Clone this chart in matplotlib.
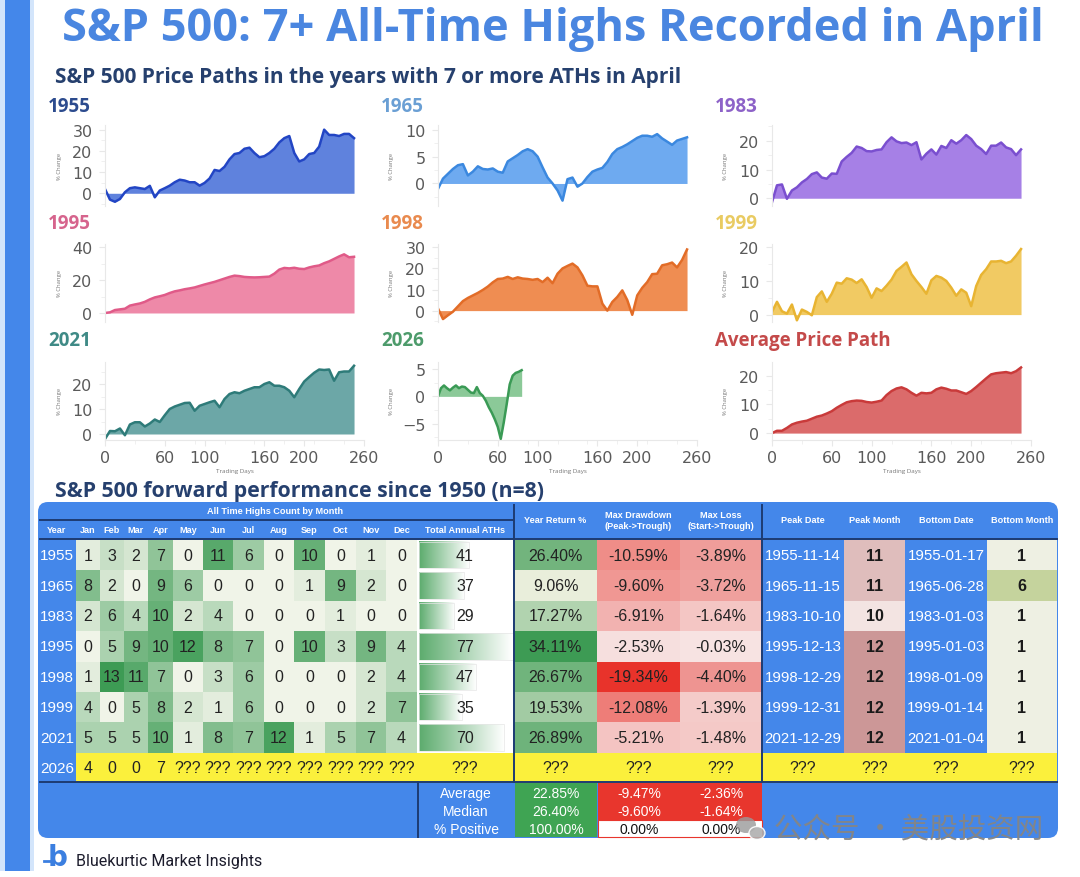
import matplotlib
matplotlib.use('Agg')
import matplotlib.pyplot as plt
from matplotlib.patches import Rectangle, FancyBboxPatch, Ellipse
from matplotlib.colors import LinearSegmentedColormap, Normalize
from matplotlib.ticker import AutoMinorLocator
import numpy as np

plt.rcParams['font.family'] = ['Open Sans', 'DejaVu Sans']

W, H = 1080, 878

# ---------------- price paths (% change, read every 5 trading days) ----------------
DAYS = list(range(0, 251, 5))
path_1955 = [2, -3, -4, -2.7, 0.5, 2.4, 2.8, 2.4, 2, 3.5, -1.9, 1.3, 2.4, 3.6, 5.2, 6.4, 6, 5.2, 5.2, 3.6,
             4.9, 7, 11, 10.5, 12.5, 16, 18.5, 19, 21, 21.5, 19, 17, 17.5, 19, 21, 24, 26, 27, 19, 15,
             16, 18.5, 19, 22, 30, 27.5, 27.5, 27, 28, 28, 26]
path_1965 = [-1, 0.9, 1.8, 2.7, 3.4, 3.6, 1.5, 2.2, 3.2, 2.7, 2.6, 2.8, 2.2, 2, 4.1, 4.7, 5.3, 6, 6.4, 6,
             5, 3, 1.1, 0, -1.3, -3.2, 0.8, 1.1, -0.6, 0, 1.2, 2.2, 2.6, 2.9, 4, 5.5, 6.4, 6.8, 7.3, 7.9,
             8.5, 8.9, 8.9, 8.7, 9.2, 8.4, 7.8, 7.2, 8, 8.3, 8.6]
path_1983 = [-1.4, 4.5, 4.8, -0.2, 2.7, 3.8, 5.5, 6.7, 8.4, 9, 7.2, 6.8, 8.6, 8.5, 12.8, 14.4, 15.8, 18,
             17.5, 16.4, 16.3, 16.8, 17, 19.5, 21.2, 19.8, 19.2, 19.4, 18.5, 19.5, 13.5, 15.5, 17, 15.2,
             18.2, 17.5, 20.2, 19, 20.2, 22, 20.6, 18.3, 17.1, 15.4, 18.3, 18.3, 19.4, 17.7, 17.1, 15, 17]
path_1995 = [0, 0.4, 1.8, 2.2, 2.6, 4.5, 5.2, 5.8, 6.8, 8.3, 9.5, 10.2, 11, 12.2, 13.2, 13.8, 14.5, 15,
             15.6, 16.5, 17.4, 18.2, 19, 20, 21, 22, 22.8, 22.5, 22, 21.8, 21.7, 21.8, 22, 22.2, 24, 26.5,
             27.5, 27.2, 27.6, 27, 26.8, 27.8, 28.5, 29, 30.4, 31.5, 33, 34.5, 35.8, 34, 34.3]
path_1998 = [1, -4, -2.2, -0.5, 2, 4.5, 6, 7.2, 8.4, 9.8, 11.4, 13.4, 15, 15.2, 16, 15, 15.8, 15.2, 15,
             14.6, 15, 13.5, 15.6, 13, 17.5, 20, 21.2, 22.3, 20.5, 16.7, 11.8, 11.5, 11.5, 3.3, 0, 4.1,
             6.5, 9.6, 5, -2, 7.2, 10.8, 13.5, 17.3, 17.5, 21.5, 22, 22.8, 20.5, 24, 29]
path_1999 = [0.8, 3.8, 1, 0.3, 3, -1.7, 1.5, 0.8, -0.2, 5.2, 6.9, 3.8, 6.2, 9.5, 9.2, 10.8, 10.4, 9.4,
             10.5, 8.2, 5, 7.8, 7, 8.6, 10.4, 13, 14.2, 15.5, 12, 10, 8.2, 6.2, 10.2, 11.5, 11, 10, 8,
             5.6, 7.5, 6.5, 2.5, 8.5, 11.8, 13.5, 15.8, 15.8, 16, 15.3, 15.8, 17.5, 19.5]
path_2021 = [-2, 1.2, 1.1, 2.2, -0.5, 3.8, 4.7, 4.7, 3, 4.2, 5.8, 4.8, 7.5, 10, 11, 11.7, 12.4, 12.5,
             9.3, 11.3, 12, 12.7, 13.3, 10.7, 14, 16, 16.7, 16.3, 17.3, 18, 18.7, 18.7, 20, 20.7, 19.3,
             19.3, 18.7, 17.3, 14.7, 18, 21, 22.8, 24.5, 25.8, 25.6, 25.8, 21.3, 24.7, 25, 25, 27.3]
path_avg = [0, 0.8, 0.8, 1.8, 3, 3.6, 4, 4.3, 5, 5.7, 6.1, 6.8, 7.6, 8.8, 9.8, 10.7, 11.1, 11.3, 11.2,
            10.8, 10.6, 10.9, 11.3, 13.2, 14.6, 15.5, 15.9, 15.2, 14, 13, 14, 13.8, 14, 15.2, 15.8, 15.4,
            14.8, 14.8, 14.2, 13.6, 14.6, 16, 17.5, 19, 20.4, 20.8, 21, 21.2, 20.8, 21.5, 22.8]
DAYS_2026 = list(range(0, 85, 3))
path_2026 = [0, 1.5, 2, 1.5, 1.1, 1.6, 2, 1.5, 1.8, 1.7, 1.2, 0.7, 0.6, 1.7, 0.6, 0.1, -0.8, -2, -3,
             -4.2, -5.6, -7.8, -4.8, -1.4, 2.2, 3.8, 4.3, 4.5, 4.8]

# ---------------- table data ----------------
YEARS = ['1955', '1965', '1983', '1995', '1998', '1999', '2021']
MONTHS = ['Jan', 'Feb', 'Mar', 'Apr', 'May', 'Jun', 'Jul', 'Aug', 'Sep', 'Oct', 'Nov', 'Dec']
ath_counts = [
    [1, 3, 2, 7, 0, 11, 6, 0, 10, 0, 1, 0],
    [8, 2, 0, 9, 6, 0, 0, 0, 1, 9, 2, 0],
    [2, 6, 4, 10, 2, 4, 0, 0, 0, 1, 0, 0],
    [0, 5, 9, 10, 12, 8, 7, 0, 10, 3, 9, 4],
    [1, 13, 11, 7, 0, 3, 6, 0, 0, 0, 2, 4],
    [4, 0, 5, 8, 2, 1, 6, 0, 0, 0, 2, 7],
    [5, 5, 5, 10, 1, 8, 7, 12, 1, 5, 7, 4],
]
total_aths = [41, 37, 29, 77, 47, 35, 70]
year_return = [26.40, 9.06, 17.27, 34.11, 26.67, 19.53, 26.89]
max_drawdown = [-10.59, -9.60, -6.91, -2.53, -19.34, -12.08, -5.21]
max_loss = [-3.89, -3.72, -1.64, -0.03, -4.40, -1.39, -1.48]
peak_date = ['1955-11-14', '1965-11-15', '1983-10-10', '1995-12-13', '1998-12-29', '1999-12-31', '2021-12-29']
peak_month = [11, 11, 10, 12, 12, 12, 12]
bottom_date = ['1955-01-17', '1965-06-28', '1983-01-03', '1995-01-03', '1998-01-09', '1999-01-14', '2021-01-04']
bottom_month = [1, 6, 1, 1, 1, 1, 1]
YEAR_2026 = '2026'
ath_2026 = ['4', '0', '0', '7'] + ['???'] * 8
summary_labels = ['Average', 'Median', '% Positive']
summary_return = ['22.85%', '26.40%', '100.00%']
summary_drawdown = ['-9.47%', '-9.60%', '0.00%']
summary_loss = ['-2.36%', '-1.64%', '0.00%']

# ---------------- styles ----------------
BLUE = '#4487ea'
NAVY = '#1d3b72'
DARK_TITLE = '#26406e'

charts = [
    ('1955', DAYS, path_1955, '#2c4b8e', '#2245c4', '#5f82dd', (-6, 32.2), [0, 10, 20, 30]),
    ('1965', DAYS, path_1965, '#6a9fd4', '#3b88df', '#6eaaf0', (-4.2, 10.9), [0, 5, 10]),
    ('1983', DAYS, path_1983, '#8d62c8', '#7a4fcf', '#a680e6', (-2.7, 25.5), [0, 10, 20]),
    ('1995', DAYS, path_1995, '#d6648d', '#e05a88', '#ee89a8', (-5.5, 42.1), [0, 20, 40]),
    ('1998', DAYS, path_1998, '#e98a4e', '#e26c27', '#ef8d52', (-5.4, 31.6), [0, 10, 20, 30]),
    ('1999', DAYS, path_1999, '#e9cb62', '#e8b432', '#f1ca63', (-2.2, 21), [0, 10, 20]),
    ('2021', DAYS, path_2021, '#3f8a86', '#2e7b79', '#6ca7a7', (-2.4, 28.8), [0, 10, 20]),
    ('2026', DAYS_2026, path_2026, '#4d9b6b', '#3a9a55', '#8bc998', (-8.0, 6.3), [-5, 0, 5]),
    ('Average Price Path', DAYS, path_avg, '#c44a4a', '#c93a3a', '#db6b6b', (-2.4, 24.7), [0, 10, 20]),
]
COL_X = [(105, 364), (438, 697), (772, 1031)]
ROW_Y = [(126, 207), (245, 323), (363, 441)]
LABEL_Y = [107, 224, 341]


def frac(x0, y0, x1, y1):
    return [x0 / W, 1 - y1 / H, (x1 - x0) / W, (y1 - y0) / H]


fig = plt.figure(figsize=(W / 100, H / 100), dpi=100)
fig.patch.set_facecolor('white')
ov = fig.add_axes([0, 0, 1, 1])
ov.axis('off')

# left stripe
ov.add_patch(Rectangle((0, 0), 34, 872, color='#d3e5fb', lw=0))
ov.add_patch(Rectangle((5, 0), 25, 872, color=BLUE, lw=0))

# titles
ov.text(553, 29, 'S&P 500: 7+ All-Time Highs Recorded in April', ha='center', va='center',
        fontsize=32.5, fontweight='bold', color='#4a86e0')
ov.text(55, 78, 'S&P 500 Price Paths in the years with 7 or more ATHs in April', ha='left', va='center',
        fontsize=15, fontweight='bold', color=DARK_TITLE)

# ---------------- small multiples ----------------
for i, (name, days, vals, lab_c, line_c, fill_c, ylim, yticks) in enumerate(charts):
    r, c = divmod(i, 3)
    x0, x1 = COL_X[c]
    y0, y1 = ROW_Y[r]
    ax = fig.add_axes(frac(x0, y0, x1, y1))
    ax.patch.set_alpha(0)
    ax.fill_between(days, vals, 0, color=fill_c, lw=0)
    ax.plot(days, vals, color=line_c, lw=1.8, solid_joinstyle='round')
    ax.set_xlim(0, 260)
    ax.set_ylim(*ylim)
    ax.set_yticks(yticks)
    ax.yaxis.set_minor_locator(AutoMinorLocator(2))
    for s in ['top', 'right']:
        ax.spines[s].set_visible(False)
    ax.spines['left'].set_color('#e8e8e8')
    ax.tick_params(axis='y', which='major', length=4, color='#e8e8e8', labelsize=11.5,
                   labelcolor='#5a5a5a', pad=5)
    ax.tick_params(axis='y', which='minor', length=3, color='#eeeeee')
    for t in ax.get_yticklabels():
        t.set_fontfamily('DejaVu Sans')
    if r == 2:
        ax.spines['bottom'].set_color('#e8e8e8')
        ax.set_xticks([0, 60, 100, 160, 200, 260])
        ax.xaxis.set_minor_locator(AutoMinorLocator(2))
        ax.tick_params(axis='x', which='major', length=4, color='#e8e8e8', labelsize=11.5,
                       labelcolor='#5a5a5a', pad=3)
        ax.tick_params(axis='x', which='minor', length=3, color='#eeeeee')
        for t in ax.get_xticklabels():
            t.set_fontfamily('DejaVu Sans')
        ov.text((x0 + x1) / 2, 472, 'Trading Days', ha='center', va='center', fontsize=4.5, color='#777777')
    else:
        ax.spines['bottom'].set_visible(False)
        ax.set_xticks([])
    ov.text(x0 - 46, (y0 + y1) / 2, '% Change', rotation=90, ha='center', va='center',
            fontsize=4.2, color='#777777')
    ov.text(x0 - 57, LABEL_Y[r], name, ha='left', va='center', fontsize=13.5,
            fontweight='bold', color=lab_c)

# ---------------- table ----------------
ov.text(55, 492, 'S&P 500 forward performance since 1950 (n=8)', ha='left', va='center',
        fontsize=15.3, fontweight='bold', color=DARK_TITLE)
ov.add_patch(FancyBboxPatch((38, 503), 1020, 336, boxstyle='round,pad=0,rounding_size=10',
                            fc=BLUE, ec='none'))

MONTH_EDGES = [76, 100, 124, 148, 173, 203, 233, 264, 294, 325, 356, 386, 417]
TOTAL_EDGES = (417, 513)
RIGHT_EDGES = [514, 597, 680, 762, 844, 905, 987, 1057]
ROW_TOP, ROW_H = 541, 30.4
row_edges = [ROW_TOP + k * ROW_H for k in range(len(YEARS) + 1)]
row_mid = [ROW_TOP + (k + 0.5) * ROW_H for k in range(len(YEARS) + 1)]

tfont = dict(family=['Liberation Sans', 'DejaVu Sans'])
hdr = dict(color='white', fontsize=6.6, fontweight='bold', ha='center', va='center', **tfont)

# heatmap of monthly ATH counts
green = LinearSegmentedColormap.from_list('ath', ['#f0f4e8', '#3d9b54'])
ov.pcolormesh(MONTH_EDGES, row_edges, np.array(ath_counts), cmap=green, vmin=0, vmax=13,
              shading='flat', zorder=2)
for r, row in enumerate(ath_counts):
    for c, v in enumerate(row):
        ov.text((MONTH_EDGES[c] + MONTH_EDGES[c + 1]) / 2, row_mid[r], str(v), ha='center',
                va='center', fontsize=11.5, color='#222222', zorder=4, **tfont)

# total ATHs with gradient data bars
ov.add_patch(Rectangle((TOTAL_EDGES[0], ROW_TOP), TOTAL_EDGES[1] - TOTAL_EDGES[0],
                       ROW_H * len(YEARS), fc='white', ec='none', zorder=2))
bar_cmap = LinearSegmentedColormap.from_list('bar', ['#5dac6e', '#ffffff'])
bar_scale = Normalize(0, 77)
grad = np.linspace(0, 1, 64).reshape(1, -1)
for r, tot in enumerate(total_aths):
    bx0 = TOTAL_EDGES[0] + 2
    bx1 = bx0 + bar_scale(tot) * (TOTAL_EDGES[1] - TOTAL_EDGES[0] - 2)
    ov.imshow(grad, extent=[bx0, bx1, row_edges[r + 1] - 2, row_edges[r] + 2], cmap=bar_cmap,
              aspect='auto', zorder=3, interpolation='bilinear')
    ov.add_patch(Rectangle((bx0, row_edges[r] + 2), bx1 - bx0, ROW_H - 4, fc='none',
                           ec='#e6e6e6', lw=0.5, zorder=3))
    ov.text(465, row_mid[r], str(tot), ha='center', va='center', fontsize=11.5, color='#222222',
            zorder=4, **tfont)

# right block cells
ret_cmap = LinearSegmentedColormap.from_list('ret', ['#e9eedb', '#3d9b54'])
dd_cmap = LinearSegmentedColormap.from_list('dd', ['#e8332b', '#f6dfde'])
loss_cmap = LinearSegmentedColormap.from_list('loss', ['#ee9491', '#f7e3e2'])
pm_cmap = LinearSegmentedColormap.from_list('pm', ['#f3e4e2', '#cc9797'])
bm_cmap = LinearSegmentedColormap.from_list('bm', ['#eef0e3', '#c5d39d'])
ret_norm = Normalize(min(year_return), max(year_return))
dd_norm = Normalize(min(max_drawdown), max(max_drawdown))
loss_norm = Normalize(min(max_loss), max(max_loss))
pm_norm = Normalize(10, 12)
bm_norm = Normalize(1, 6)

columns = [
    (year_return, ret_cmap, ret_norm, lambda v: f'{v:.2f}%', '#222222', 'normal', 11.5),
    (max_drawdown, dd_cmap, dd_norm, lambda v: f'{v:.2f}%', '#222222', 'normal', 11.5),
    (max_loss, loss_cmap, loss_norm, lambda v: f'{v:.2f}%', '#222222', 'normal', 11.5),
    (peak_date, None, None, str, 'white', 'normal', 10.8),
    (peak_month, pm_cmap, pm_norm, str, '#1a1a1a', 'bold', 11.5),
    (bottom_date, None, None, str, 'white', 'normal', 10.8),
    (bottom_month, bm_cmap, bm_norm, str, '#1a1a1a', 'bold', 11.5),
]
for c, (vals, cmap, norm, fmt, tc, fw, fs) in enumerate(columns):
    cx0, cx1 = RIGHT_EDGES[c], RIGHT_EDGES[c + 1]
    for r, v in enumerate(vals):
        if cmap is not None:
            ov.add_patch(Rectangle((cx0, row_edges[r]), cx1 - cx0, ROW_H, fc=cmap(norm(v)),
                                   ec='none', zorder=2))
        ov.text((cx0 + cx1) / 2, row_mid[r], fmt(v), ha='center', va='center', fontsize=fs,
                color=tc, fontweight=fw, zorder=4, **tfont)

# 2026 row
r26 = len(YEARS)
ov.add_patch(Rectangle((MONTH_EDGES[0], row_edges[r26]), RIGHT_EDGES[-1] - MONTH_EDGES[0], ROW_H,
                       fc='#fbf03c', ec='none', zorder=2))
for c, v in enumerate(ath_2026):
    ov.text((MONTH_EDGES[c] + MONTH_EDGES[c + 1]) / 2, row_mid[r26], v, ha='center', va='center',
            fontsize=11.5, color='#222222', zorder=4, **tfont)
ov.text(465, row_mid[r26], '???', ha='center', va='center', fontsize=11.5, color='#222222', zorder=4, **tfont)
for c in range(len(columns)):
    ov.text((RIGHT_EDGES[c] + RIGHT_EDGES[c + 1]) / 2, row_mid[r26], '???', ha='center', va='center',
            fontsize=11.5, color='#222222', zorder=4, **tfont)

# year labels
for r, y in enumerate(YEARS + [YEAR_2026]):
    ov.text(57, row_mid[r], y, ha='center', va='center', fontsize=11, color='white', zorder=4, **tfont)

# headers
ov.text(275, 512, 'All Time Highs Count by Month', **hdr)
ov.text(57, 531, 'Year', **hdr)
for c, m in enumerate(MONTHS):
    ov.text((MONTH_EDGES[c] + MONTH_EDGES[c + 1]) / 2, 531, m, **hdr)
ov.text(465, 531, 'Total Annual ATHs', **hdr)
right_headers = ['Year Return %', 'Max Drawdown\n(Peak->Trough)', 'Max Loss\n(Start->Trough)',
                 'Peak Date', 'Peak Month', 'Bottom Date', 'Bottom Month']
for c, h in enumerate(right_headers):
    ov.text((RIGHT_EDGES[c] + RIGHT_EDGES[c + 1]) / 2, 521, h, linespacing=1.25, **hdr)

# grid lines
line = dict(color=NAVY, lw=1.4, zorder=5)
ov.plot([40, 513], [521, 521], **line)
ov.plot([40, 1057], [540, 540], **line)
ov.plot([40, 1057], [783.5, 783.5], **line)
ov.plot([514, 514], [506, 783.5], **line)
ov.plot([762, 762], [506, 783.5], **line)
ov.plot([418, 418], [783.5, 838], **line)

# summary block
ov.add_patch(Rectangle((515, 784), 82, 54, fc='#3fa453', ec='none', zorder=2))
ov.add_patch(Rectangle((598, 784), 164, 37, fc='#e8362d', ec='none', zorder=2))
ov.add_patch(Rectangle((598, 821), 164, 17, fc='white', ec='#e8362d', lw=0.8, zorder=2))
sum_y = [794, 812, 830]
for k, lab in enumerate(summary_labels):
    ov.text(466, sum_y[k], lab, ha='center', va='center', fontsize=10, color='white', zorder=4, **tfont)
    ov.text(556, sum_y[k], summary_return[k], ha='center', va='center', fontsize=10, color='white',
            zorder=4, **tfont)
    tc = 'white' if k < 2 else '#111111'
    ov.text(639, sum_y[k], summary_drawdown[k], ha='center', va='center', fontsize=10, color=tc,
            zorder=4, **tfont)
    ov.text(721, sum_y[k], summary_loss[k], ha='center', va='center', fontsize=10, color=tc,
            zorder=4, **tfont)

# watermark
ov.add_patch(Ellipse((746, 826), 20, 16, fc='#9a9a9a', ec='none', alpha=0.8, zorder=6))
ov.add_patch(Ellipse((757, 834), 16, 13, fc='#b0b0b0', ec='white', lw=1, alpha=0.9, zorder=6))
ov.text(774, 830, '公众号 · 美股投资网', ha='left', va='center', fontsize=20.5, color='#858585',
        alpha=0.95, zorder=6, family=['Noto Sans CJK SC', 'DejaVu Sans'])

# logo
ov.text(58, 858, 'b', ha='center', va='center', fontsize=20, fontweight='bold', color='#3b7fe0',
        family=['DejaVu Sans'])
ov.plot([44, 52], [862, 862], color='#3b7fe0', lw=2)
ov.text(76, 862, 'Bluekurtic Market Insights', ha='left', va='center', fontsize=11.5,
        color='#1c1c2c', family=['Roboto', 'DejaVu Sans'])

ov.set_xlim(0, W)
ov.set_ylim(H, 0)

fig.savefig('out.png', dpi=100)
